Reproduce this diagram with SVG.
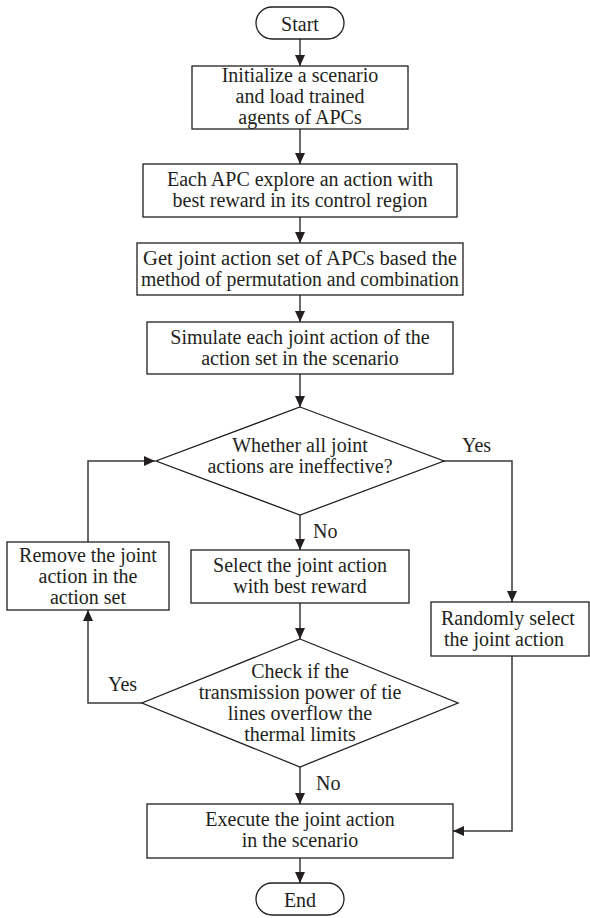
<svg xmlns="http://www.w3.org/2000/svg" width="590" height="918" viewBox="0 0 590 918">
<style>
.shape{fill:#fff;stroke:#231f20;stroke-width:1.3}
.conn{fill:none;stroke:#3a3a3a;stroke-width:1.5}
text{font-family:"Liberation Serif","Times New Roman",serif;font-size:20px;fill:#231f20}
.c{text-anchor:middle}
</style>
<defs>
<marker id="ah" markerUnits="userSpaceOnUse" markerWidth="11" markerHeight="10" refX="11" refY="5" orient="auto">
<path d="M0,0 L11,5 L0,10 z" fill="#231f20"/>
</marker>
</defs>
<rect width="590" height="918" fill="#fff"/>
<g id="connectors">
<path class="conn" d="M300,39 V66" marker-end="url(#ah)"/>
<path class="conn" d="M300,129 V164" marker-end="url(#ah)"/>
<path class="conn" d="M300,217 V243" marker-end="url(#ah)"/>
<path class="conn" d="M300,295 V322" marker-end="url(#ah)"/>
<path class="conn" d="M300,374 V407" marker-end="url(#ah)"/>
<path class="conn" d="M300,515 V550" marker-end="url(#ah)"/>
<path class="conn" d="M443,461 H512 V602" marker-end="url(#ah)"/>
<path class="conn" d="M300,603 V639" marker-end="url(#ah)"/>
<path class="conn" d="M142,703 H88 V610" marker-end="url(#ah)"/>
<path class="conn" d="M88,542 V461 H155" marker-end="url(#ah)"/>
<path class="conn" d="M300,767 V804" marker-end="url(#ah)"/>
<path class="conn" d="M512,656 V831 H453" marker-end="url(#ah)"/>
<path class="conn" d="M300,858 V883" marker-end="url(#ah)"/>
<text x="462" y="452">Yes</text>
<text x="313" y="538">No</text>
<text x="108" y="691">Yes</text>
<text x="316" y="790">No</text>
</g>
<g id="start">
<rect class="shape" x="256" y="7" width="88" height="32" rx="16" ry="16"/>
<text class="c" x="300" y="30.5">Start</text>
</g>
<g id="init">
<rect class="shape" x="192" y="66" width="216" height="63"/>
<text class="c" x="300" y="82"><tspan x="300">Initialize a scenario</tspan><tspan x="300" dy="21">and load trained</tspan><tspan x="300" dy="21">agents of APCs</tspan></text>
</g>
<g id="explore">
<rect class="shape" x="143" y="164" width="314" height="53"/>
<text class="c" x="300" y="186"><tspan x="300">Each APC explore an action with</tspan><tspan x="300" dy="21">best reward in its control region</tspan></text>
</g>
<g id="jointset">
<rect class="shape" x="137" y="243" width="326" height="52"/>
<text class="c" x="300" y="265"><tspan x="300" textLength="314" lengthAdjust="spacingAndGlyphs">Get joint action set of APCs based the</tspan><tspan x="300" dy="21" textLength="318" lengthAdjust="spacingAndGlyphs">method of permutation and combination</tspan></text>
</g>
<g id="simulate">
<rect class="shape" x="147" y="322" width="306" height="52"/>
<text class="c" x="300" y="344"><tspan x="300">Simulate each joint action of the</tspan><tspan x="300" dy="21">action set in the scenario</tspan></text>
</g>
<g id="decision1">
<polygon class="shape" points="300,407 444,461 300,515 156,461"/>
<text class="c" x="300" y="452"><tspan x="300">Whether all joint</tspan><tspan x="300" dy="21">actions are ineffective?</tspan></text>
</g>
<g id="remove">
<rect class="shape" x="7" y="542" width="162" height="68"/>
<text class="c" x="88" y="561.5"><tspan x="88">Remove the joint</tspan><tspan x="88" dy="21">action in the</tspan><tspan x="88" dy="21">action set</tspan></text>
</g>
<g id="select">
<rect class="shape" x="191" y="550" width="218" height="53"/>
<text class="c" x="300" y="572"><tspan x="300">Select the joint action</tspan><tspan x="300" dy="21">with best reward</tspan></text>
</g>
<g id="random">
<rect class="shape" x="431" y="602" width="158" height="54"/>
<text x="441" y="625"><tspan x="441">Randomly select</tspan><tspan x="444" dy="21">the joint action</tspan></text>
</g>
<g id="decision2">
<polygon class="shape" points="300,639 458,703 300,767 142,703"/>
<text class="c" x="300" y="678"><tspan x="300">Check if the</tspan><tspan x="300" dy="21">transmission power of tie</tspan><tspan x="300" dy="21">lines overflow the</tspan><tspan x="300" dy="21">thermal limits</tspan></text>
</g>
<g id="execute">
<rect class="shape" x="147" y="804" width="306" height="54"/>
<text class="c" x="300" y="826"><tspan x="300">Execute the joint action</tspan><tspan x="300" dy="21">in the scenario</tspan></text>
</g>
<g id="end">
<rect class="shape" x="256" y="883" width="88" height="32" rx="16" ry="16"/>
<text class="c" x="300" y="906.5">End</text>
</g>
</svg>
